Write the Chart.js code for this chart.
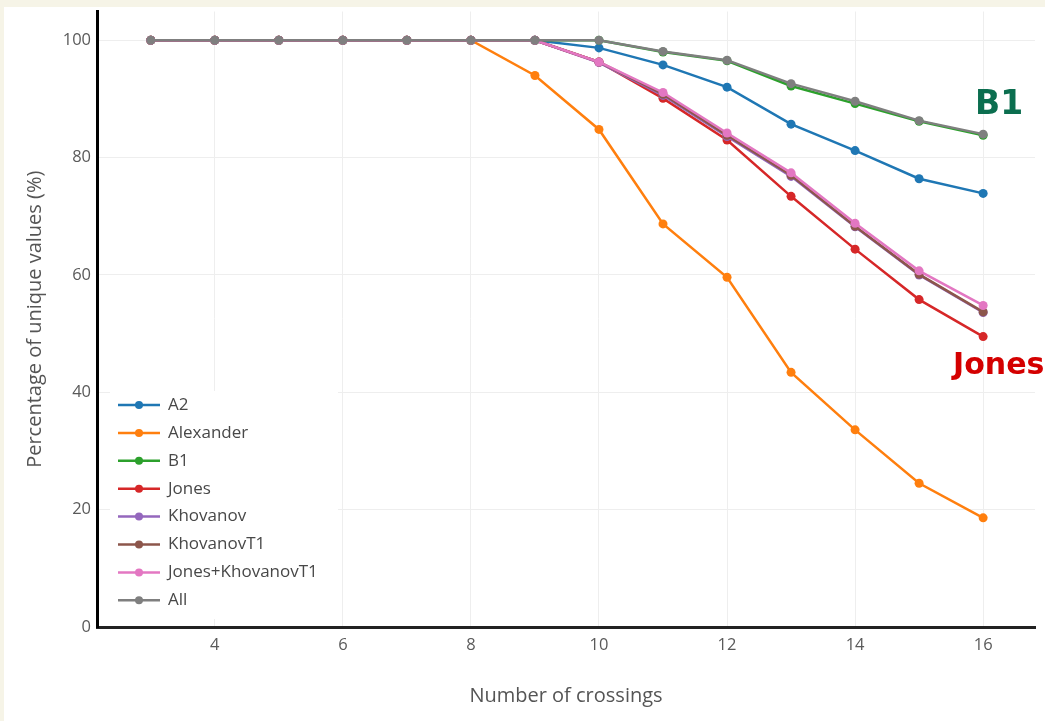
<!DOCTYPE html>
<html>
<head>
<meta charset="utf-8">
<script src="https://cdn.jsdelivr.net/npm/chart.js@4"></script>
<style>
  body { margin: 0; background: #f6f4e7; }
  #wrap { position: absolute; left: 4px; top: 7px; width: 1041px; height: 714px; background: #fff; }
</style>
</head>
<body>
<div id="wrap"><canvas id="chart"></canvas></div>
<script>
// ------- DATA -------
const crossings = [3, 4, 5, 6, 7, 8, 9, 10, 11, 12, 13, 14, 15, 16];
const a2 = [100, 100, 100, 100, 100, 100, 100, 98.7, 95.8, 92.0, 85.7, 81.2, 76.4, 73.9];
const alexander = [100, 100, 100, 100, 100, 100, 94.0, 84.8, 68.7, 59.6, 43.4, 33.6, 24.5, 18.6];
const b1 = [100, 100, 100, 100, 100, 100, 100, 100, 98.0, 96.5, 92.2, 89.2, 86.2, 83.8];
const jones = [100, 100, 100, 100, 100, 100, 100, 96.3, 90.1, 83.0, 73.4, 64.4, 55.8, 49.5];
const khovanov = [100, 100, 100, 100, 100, 100, 100, 96.2, 90.6, 83.6, 76.8, 68.2, 60.0, 53.6];
const khovanovT1 = [100, 100, 100, 100, 100, 100, 100, 96.3, 90.8, 83.8, 77.0, 68.3, 60.1, 53.7];
const jonesKhovanovT1 = [100, 100, 100, 100, 100, 100, 100, 96.3, 91.1, 84.2, 77.4, 68.8, 60.7, 54.8];
const allInv = [100, 100, 100, 100, 100, 100, 100, 100, 98.1, 96.6, 92.6, 89.6, 86.3, 84.0];

const seriesNames = ["A2", "Alexander", "B1", "Jones", "Khovanov", "KhovanovT1", "Jones+KhovanovT1", "All"];
const seriesValues = [a2, alexander, b1, jones, khovanov, khovanovT1, jonesKhovanovT1, allInv];
const seriesColors = ["#1f77b4", "#ff7f0e", "#2ca02c", "#d62728", "#9467bd", "#8c564b", "#e377c2", "#7f7f7f"];

const xTicks = [4, 6, 8, 10, 12, 14, 16];
const yTicks = [0, 20, 40, 60, 80, 100];

const xTitle = "Number of crossings";
const yTitle = "Percentage of unique values (%)";

// ------- DATASETS -------
const datasets = seriesNames.map((name, i) => ({
    label: name,
    data: crossings.map((x, j) => ({ x: x, y: seriesValues[i][j] })),
    borderColor: seriesColors[i],
    backgroundColor: seriesColors[i],
    borderWidth: 2.5,
    pointRadius: 4.5,
    pointBorderWidth: 0,
    tension: 0,
    order: seriesNames.length - 1 - i   // later series on top, like the original
}));

// ------- LEGEND (drawn inside the plot) -------
const insideLegend = {
    id: "insideLegend",
    afterDatasetsDraw(chart) {
        const ctx = chart.ctx;
        ctx.save();
        ctx.fillStyle = "#fff";
        ctx.fillRect(106, 384, 228, 228);
        ctx.font = "17px 'Open Sans'";
        ctx.textBaseline = "middle";
        chart.data.datasets.forEach((ds, i) => {
            const y = 398 + i * 27.9;
            ctx.strokeStyle = ds.borderColor;
            ctx.lineWidth = 2.5;
            ctx.beginPath();
            ctx.moveTo(114, y);
            ctx.lineTo(156, y);
            ctx.stroke();
            ctx.fillStyle = ds.borderColor;
            ctx.beginPath();
            ctx.arc(135, y, 4, 0, Math.PI * 2);
            ctx.fill();
            ctx.fillStyle = "#484848";
            ctx.fillText(ds.label, 164, y);
        });
        ctx.restore();
    }
};

// ------- HANDWRITTEN NOTES -------
const notes = {
    id: "notes",
    afterDraw(chart) {
        const ctx = chart.ctx;
        ctx.save();
        ctx.textBaseline = "alphabetic";
        ctx.font = "bold 33px 'DejaVu Sans'";
        ctx.fillStyle = "#0b6e4f";
        ctx.fillText("B1", 971, 107);
        ctx.font = "bold 30px 'DejaVu Sans'";
        ctx.fillStyle = "#d40000";
        ctx.fillText("Jones", 949, 367);
        ctx.restore();
    }
};

// ------- CHART -------
new Chart(document.getElementById("chart").getContext("2d"), {
    type: "line",
    data: { datasets: datasets },
    plugins: [insideLegend, notes],
    options: {
        responsive: true,
        maintainAspectRatio: false,
        animation: false,
        devicePixelRatio: 1,
        layout: { padding: { left: 0, top: 3, right: 10, bottom: 0 } },
        plugins: { legend: { display: false }, tooltip: { enabled: false } },
        scales: {
            x: {
                type: "linear",
                min: 2.16,
                max: 16.81,
                afterFit: s => { s.height = 94; s.paddingLeft = 0; s.paddingRight = 0; },
                afterBuildTicks: s => { s.ticks = xTicks.map(v => ({ value: v })); },
                grid: { color: "#eeeeee", lineWidth: 1, drawTicks: false },
                border: { display: true, color: "#222", width: 3 },
                ticks: { padding: 8, color: "#5a5a5a", font: { family: "'Open Sans'", size: 16.5 } },
                title: {
                    display: true, text: xTitle, color: "#555",
                    font: { family: "'Open Sans'", size: 20 },
                    padding: { top: 0, bottom: 13 }
                }
            },
            y: {
                min: 0,
                max: 104.9,
                afterFit: s => { s.width = 93; s.paddingTop = 0; s.paddingBottom = 0; },
                afterBuildTicks: s => { s.ticks = yTicks.map(v => ({ value: v })); },
                grid: { color: "#eeeeee", lineWidth: 1, drawTicks: false },
                border: { display: true, color: "#000", width: 3 },
                ticks: { padding: 6, color: "#5a5a5a", font: { family: "'Open Sans'", size: 16.5 } },
                title: {
                    display: true, text: yTitle, color: "#555",
                    font: { family: "'Open Sans'", size: 20 },
                    padding: { top: 19, bottom: 0 }
                }
            }
        }
    }
});
</script>
</body>
</html>
